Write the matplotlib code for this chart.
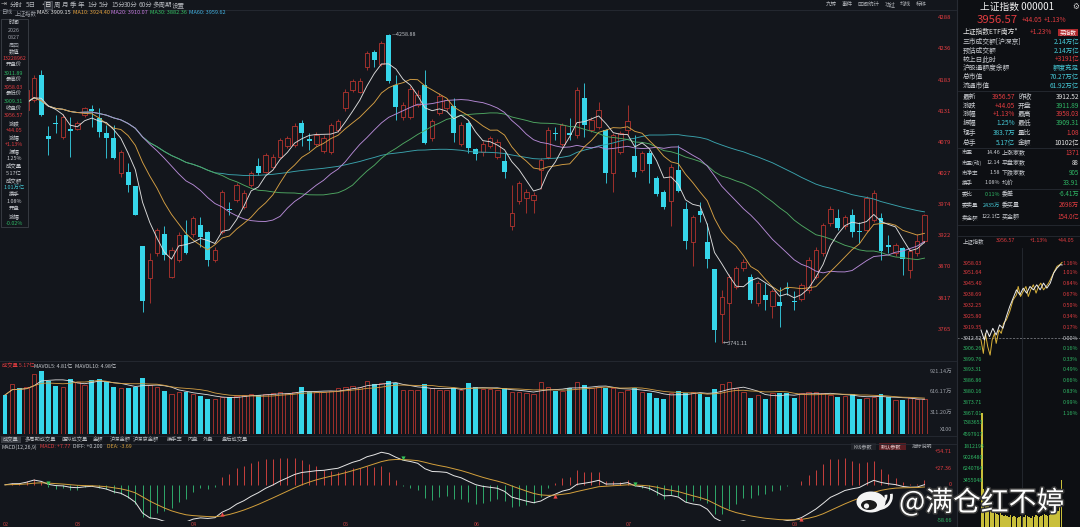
import numpy as np
import pandas as pd
import matplotlib
matplotlib.use("Agg")
import matplotlib.pyplot as plt
from matplotlib.patches import Rectangle, Ellipse, Arc, Circle
import matplotlib.patheffects as pe

plt.rcParams['font.family'] = ['Noto Sans CJK SC', 'DejaVu Sans']

W, H = 1080, 527
BG = '#13161c'
PANEL_BG = '#0d0f13'
RED = '#e23c40'
UP_EDGE = '#b5342f'
CYAN = '#36d6ea'
CYANT = '#45c9d6'
GREEN = '#2fb865'
GRID = '#272b33'
LABEL = '#c9ccd1'
GRAY = '#9a9ea6'

# daily candles of 上证指数, Feb .. 2026-08-27
opens = [4150, 4126, 4148, 4132, 4149, 4191, 4089, 4110, 4087, 4100,
         4101, 4124, 4134, 4118, 4093, 4086, 4027, 4029, 4004, 3904,
         3850, 3892, 3924, 3853, 3881, 3923, 3925, 3939, 3927, 3881,
         3928, 3967, 3981, 3970, 4006, 4039, 4029, 4037, 4054, 4071,
         4073, 4111, 4083, 4075, 4063, 4062, 4099, 4135, 4166, 4163,
         4205, 4230, 4210, 4258, 4174, 4121, 4121, 4141, 4174, 4085,
         4127, 4135, 4139, 4076, 4111, 4066, 4062, 4071, 4054, 4046,
         3937, 3979, 3984, 3981, 4032, 4054, 4094, 4076, 4094, 4090,
         4153, 4099, 4104, 4099, 4026, 4062, 4099, 4055, 4032, 4060,
         4019, 3995, 3979, 4032, 3966, 3911, 3963, 3911, 3865, 3791,
         3808, 3836, 3867, 3853, 3808, 3822, 3803, 3811, 3834, 3812,
         3816, 3830, 3853, 3892, 3942, 3951, 3937, 3956, 3930, 3931,
         3948, 3951, 3906, 3892, 3901, 3864, 3892, 3911.89]
highs = [4155, 4152, 4151, 4172, 4190, 4199, 4105, 4124, 4125, 4121,
         4113, 4138, 4141, 4135, 4107, 4107, 4065, 4043, 4005, 3905,
         3892, 3935, 3937, 3902, 3928, 3948, 3955, 3953, 3929, 3902,
         3998, 3978, 4010, 3998, 4030, 4051, 4060, 4058, 4086, 4088,
         4110, 4116, 4093, 4095, 4090, 4110, 4117, 4168, 4184, 4185,
         4231, 4232, 4248, 4258.88, 4191, 4145, 4172, 4165, 4200, 4117,
         4160, 4153, 4152, 4112, 4113, 4068, 4080, 4088, 4083, 4062,
         4006, 4013, 3999, 3994, 4052, 4103, 4104, 4110, 4118, 4170,
         4177, 4120, 4146, 4100, 4094, 4097, 4141, 4090, 4064, 4065,
         4022, 3998, 4041, 4073, 3978, 3957, 3978, 3942, 3866, 3830,
         3858, 3871, 3882, 3858, 3846, 3842, 3832, 3836, 3844, 3828,
         3843, 3885, 3902, 3943, 3971, 3967, 3957, 3967, 3945, 3988,
         3998, 3959, 3923, 3910, 3903, 3899, 3924, 3958.03]
lows = [4122, 4120, 4130, 4128, 4145, 4122, 4057, 4093, 4083, 4054,
        4098, 4120, 4104, 4087, 4051, 4050, 4020, 3995, 3956, 3794,
        3808, 3888, 3881, 3850, 3878, 3890, 3920, 3903, 3870, 3878,
        3925, 3956, 3978, 3967, 4003, 4023, 4026, 4035, 4051, 4068,
        4070, 4071, 4065, 4072, 4060, 4058, 4096, 4130, 4162, 4160,
        4200, 4205, 4206, 4177, 4115, 4115, 4117, 4138, 4076, 4080,
        4123, 4131, 4079, 4072, 4060, 4048, 4055, 4068, 4050, 4018,
        3931, 3975, 3959, 3960, 4000, 4050, 4082, 4072, 4082, 4086,
        4087, 4095, 4100, 4009, 3995, 4058, 4090, 4020, 4028, 4009,
        3988, 3967, 3937, 3995, 3900, 3870, 3945, 3867, 3744, 3741.11,
        3747, 3832, 3863, 3808, 3804, 3797, 3783, 3769, 3822, 3797,
        3812, 3826, 3849, 3888, 3938, 3931, 3933, 3920, 3909, 3927,
        3944, 3881, 3892, 3888, 3856, 3850, 3888, 3909.31]
closes = [4128, 4150, 4135, 4165, 4185, 4124, 4084, 4108, 4121, 4097,
          4110, 4135, 4130, 4096, 4085, 4051, 4062, 4006, 3957, 3812,
          3881, 3931, 3889, 3898, 3923, 3892, 3951, 3920, 3881, 3898,
          3994, 3964, 4006, 3993, 4026, 4027, 4057, 4054, 4082, 4085,
          4105, 4094, 4081, 4091, 4086, 4107, 4113, 4163, 4180, 4180,
          4227, 4216, 4244, 4180, 4137, 4140, 4168, 4157, 4077, 4113,
          4155, 4149, 4094, 4107, 4069, 4058, 4076, 4085, 4079, 4029,
          3959, 4009, 3995, 3990, 4048, 4099, 4092, 4107, 4091, 4166,
          4107, 4115, 4132, 4027, 4090, 4093, 4113, 4029, 4060, 4042,
          3991, 3970, 4037, 3997, 3913, 3953, 3956, 3882, 3763, 3819,
          3853, 3867, 3878, 3814, 3842, 3813, 3828, 3804, 3832, 3810,
          3839, 3881, 3898, 3939, 3967, 3934, 3953, 3928, 3927, 3984,
          3993, 3895, 3903, 3906, 3882, 3895, 3912.52, 3956.57]
# volume in 万手 (x100)
volumes = [570, 726, 667, 690, 872, 920, 774, 701, 690, 803,
           765, 716, 789, 799, 755, 692, 667, 677, 682, 813,
           716, 690, 628, 580, 609, 618, 580, 560, 506, 511,
           545, 545, 560, 570, 580, 570, 580, 594, 609, 594,
           618, 682, 609, 609, 618, 628, 667, 690, 706, 690,
           779, 726, 740, 774, 740, 643, 643, 643, 730, 667,
           643, 643, 667, 643, 740, 682, 652, 652, 650, 667,
           618, 609, 594, 580, 755, 690, 628, 628, 667, 755,
           716, 667, 690, 677, 667, 618, 643, 667, 618, 604,
           531, 511, 594, 633, 604, 609, 584, 545, 657, 726,
           755, 667, 618, 521, 570, 511, 594, 594, 604, 531,
           594, 609, 609, 594, 570, 545, 560, 580, 511, 531,
           545, 580, 536, 497, 497, 521, 511, 517]

price_ticks = [4288, 4236, 4183, 4131, 4079, 4027, 3974, 3922, 3870, 3817, 3765]
vol_ticks = [921.14, 616.17, 311.20]
macd_ticks = [54.71, 27.36, 0, -58.66]
month_labels = ['02', '03', '04', '05', '06', '07', '08']
month_pos = [0, 10, 26, 47, 65, 86, 109]

# intraday (minute, % change) of the day
px_min = [0, 10, 17, 25, 35, 45, 55, 65, 75, 85, 95, 105, 115, 125, 135, 145,
          155, 165, 175, 185, 195, 205, 215, 225, 235, 240]
px_pct = [0.124, -0.031, 0.124, 0.021, 0.150, 0.047, 0.202, 0.150, 0.331, 0.487,
          0.616, 0.745, 0.668, 0.771, 0.694, 0.797, 0.745, 0.823, 0.745, 0.849,
          0.771, 0.849, 1.004, 1.082, 1.134, 1.130]
nw_min = [0, 7, 13, 20, 27, 33, 40, 45, 53, 60, 67, 75, 85, 95, 105, 110, 117,
          125, 133, 140, 147, 155, 163, 170, 177, 185, 193, 200, 210, 217, 225, 233, 240]
nw_pct = [-0.031, -0.238, 0.072, -0.135, -0.264, -0.031, 0.072, -0.083, 0.124, 0.072,
          0.228, 0.280, 0.409, 0.590, 0.668, 0.797, 0.642, 0.719, 0.797, 0.642,
          0.745, 0.823, 0.694, 0.797, 0.849, 0.745, 0.797, 0.849, 0.952, 1.030,
          1.108, 1.134, 1.170]
mini_vol = [3020, 1010, 900, 800, 580, 480, 420, 370, 400, 340, 320, 370, 320, 290,
            320, 290, 260, 320, 260, 290, 260, 240, 260, 290, 240, 260, 320, 290,
            260, 240, 290, 260, 320, 290, 260, 290, 320, 340, 320, 290, 320, 340,
            370, 400, 370, 420, 530, 1250]
mini_pct_ticks = [1.16, 1.01, 0.84, 0.67, 0.50, 0.34, 0.17, 0.00, -0.16, -0.33,
                  -0.49, -0.66, -0.83, -0.99, -1.16]
mini_price_labels = ['3958.03', '3951.64', '3945.40', '3938.69', '3932.25', '3925.80',
                     '3919.35', '3912.52', '3906.26', '3899.76', '3893.31', '3886.86',
                     '3880.16', '3873.71', '3867.01']


def rect(x0, y0, x1, y1):
    return [x0 / W, 1 - y1 / H, (x1 - x0) / W, (y1 - y0) / H]


def clean(a):
    a.set_facecolor('none')
    for sp in a.spines.values():
        sp.set_visible(False)
    a.set_xticks([])
    a.set_yticks([])


fig = plt.figure(figsize=(W / 100, H / 100), dpi=100, facecolor=BG)

bg = fig.add_axes([0, 0, 1, 1])
bg.set_xlim(0, W)
bg.set_ylim(H, 0)
bg.axis('off')
bg.add_patch(Rectangle((957, 0), 123, H, facecolor=PANEL_BG, edgecolor='none'))

o = np.array(opens, float)
h = np.array(highs, float)
l = np.array(lows, float)
c = np.array(closes, float)
v = np.array(volumes, float)
idx = np.arange(len(c))
up = c >= o
XL = (-0.69, 128.04)

# ---- main K-line
ax = fig.add_axes(rect(0, 16, 932, 358))
clean(ax)
ax.set_xlim(*XL)
ax.set_ylim(3716.5, 4289.7)
body_lo = np.minimum(o, c)
body_h = np.maximum(np.abs(c - o), 0.9)
ax.vlines(idx[up], l[up], h[up], color=UP_EDGE, lw=0.6, zorder=2)
ax.vlines(idx[~up], l[~up], h[~up], color=CYAN, lw=0.6, zorder=2)
ax.bar(idx[up], body_h[up], bottom=body_lo[up], width=0.62, facecolor=BG,
       edgecolor=UP_EDGE, lw=0.6, zorder=3)
ax.bar(idx[~up], body_h[~up], bottom=body_lo[~up], width=0.68, color=CYAN, lw=0, zorder=3)
s = pd.Series(c)
for n, col in [(60, '#3aa3ad'), (30, '#4fa862'), (20, '#b68ad6'), (10, '#d6a044'), (5, '#dcdcdc')]:
    ax.plot(idx, s.rolling(n, min_periods=1).mean(), color=col, lw=0.65, zorder=4)
ax.yaxis.tick_right()
ax.set_yticks(price_ticks)
ax.set_yticklabels([str(t) for t in price_ticks])
ax.tick_params(axis='y', length=0, pad=4, labelsize=4.3, labelcolor=RED)
ih = int(np.argmax(h))
il = int(np.argmin(l))
ax.text(ih + 0.4, h[ih], '—%.2f' % h[ih], fontsize=3.9, color='#c0c3c8', va='center', zorder=5)
ax.text(il + 0.2, l[il], '←%.2f' % l[il], fontsize=3.9, color='#c0c3c8', va='center', zorder=5)

# ---- volume
av = fig.add_axes(rect(0, 370, 932, 434))
clean(av)
av.set_xlim(*XL)
av.set_ylim(0, 935.8)
av.bar(idx[up], v[up], width=0.62, facecolor=BG, edgecolor=UP_EDGE, lw=0.6)
av.bar(idx[~up], v[~up], width=0.68, color=CYAN, lw=0)
vs = pd.Series(v)
av.plot(idx, vs.rolling(5, min_periods=1).mean(), color='#dedede', lw=0.6)
av.plot(idx, vs.rolling(10, min_periods=1).mean(), color='#d6a044', lw=0.6)
for t in vol_ticks:
    av.text(952 / 932, t, '%.2f万' % t, transform=av.get_yaxis_transform(), ha='right',
            va='center', fontsize=4, color=GRAY)
av.text(952 / 932, 60, 'X100', transform=av.get_yaxis_transform(), ha='right',
        va='center', fontsize=4, color=GRAY)

# ---- MACD
am = fig.add_axes(rect(0, 448, 932, 521))
clean(am)
am.set_xlim(*XL)
am.set_ylim(-60.3, 61.3)
ema12 = s.ewm(span=12, adjust=False).mean()
ema26 = s.ewm(span=26, adjust=False).mean()
diff = ema12 - ema26
dea = diff.ewm(span=9, adjust=False).mean()
hist = 2 * (diff - dea)
am.vlines(idx, 0, hist, colors=np.where(hist >= 0, '#c8403c', '#2ea86a'), lw=0.7)
am.plot(idx, diff, color='#e6e6e6', lw=0.7)
am.plot(idx, dea, color='#d3a03c', lw=0.7)
dd = (diff - dea).values
for i in range(1, len(dd)):
    if dd[i - 1] < 0 <= dd[i]:
        am.plot(i, diff[i] - 3, marker='^', ms=3, color='#f04848', mec='none')
    elif dd[i - 1] > 0 >= dd[i]:
        am.plot(i, diff[i] + 3, marker='v', ms=3, color='#35c35a', mec='none')
for t in macd_ticks:
    lab = '0' if t == 0 else ('%+.2f' % t)
    am.text(952 / 932, t, lab, transform=am.get_yaxis_transform(), ha='right', va='center',
            fontsize=4, color=RED if t >= 0 else GREEN)
for lab, p in zip(month_labels, month_pos):
    am.text(p - 0.3, -0.01, lab, transform=am.get_xaxis_transform(), ha='left', va='top',
            fontsize=4, color='#c04040')

# ---- intraday mini chart
ip = fig.add_axes(rect(957, 248, 1080, 420))
clean(ip)
ip.set_xlim(-71, 293)
ip.set_ylim(-1.268, 1.392)
ip.axhline(0, color='#8a8d93', lw=0.5, ls=(0, (3, 2)))
ip.axvline(120, color=GRID, lw=0.6)
ip.plot(nw_min, nw_pct, color='#d9b23a', lw=0.7)
ip.plot(px_min, px_pct, color='#ececec', lw=0.7)
for t, lab in zip(mini_pct_ticks, mini_price_labels):
    col = RED if t > 0 else (LABEL if t == 0 else GREEN)
    ip.text(6 / 123, t, lab, transform=ip.get_yaxis_transform(), ha='left', va='center',
            fontsize=3.9, color=col)
    ip.text(121 / 123, t, '%.2f%%' % abs(t), transform=ip.get_yaxis_transform(), ha='right',
            va='center', fontsize=3.9, color=col)

iv = fig.add_axes(rect(957, 410, 1080, 527))
clean(iv)
iv.set_xlim(-71, 293)
iv.set_ylim(0, 3100)
iv.axvline(120, color=GRID, lw=0.6)
iv.bar(np.arange(len(mini_vol)) * 5 + 2.5, mini_vol, width=4.2, color='#c9bf3a', lw=0)

# ---- overlay text
ov = fig.add_axes([0, 0, 1, 1])
ov.set_xlim(0, W)
ov.set_ylim(H, 0)
ov.axis('off')
ov.set_facecolor('none')


def t(x, y, s, col=LABEL, fs=4.3, ha='left', **kw):
    ov.text(x, y, s, color=col, fontsize=fs, ha=ha, va='center', **kw)


for y in (9.5, 361, 435.5, 443.5):
    ov.plot([0, 956], [y, y], color=GRID, lw=0.6)
ov.plot([956.5, 956.5], [0, H], color=GRID, lw=0.8)

# toolbar
t(1, 4.8, '⇥', '#b0b0b0', 5)
for x, s_ in [(10, '分时'), (26, '5日'), (39, '·'), (54, '周'), (62, '月'), (70, '季'), (78, '年'),
              (87, '1分'), (99, '5分'), (111, '15分'), (124, '30分'), (139, '60分'),
              (153, '多周期'), (172, '设置')]:
    t(x, 4.8, s_, '#b0b3b8', 4.7)
ov.add_patch(Rectangle((43.5, 0.5), 8.5, 8.5, facecolor='#2c3038', edgecolor='#6a6e76', lw=0.4))
t(44.5, 4.8, '日', '#e0e0e0', 4.7)
for x, s_ in [(826, '九转'), (842, '事件'), (858, '区间统计'), (885, '功过'), (900, '均线'), (916, '标移')]:
    t(x, 4.5, s_, '#b0b3b8', 4.0)

# MA legend line
t(1, 13, '日线', GRAY, 4.0)
t(15, 13, '上证指数', GRAY, 4.0)
t(37, 13, 'MA5: 3909.15', '#e0e0e0', 4.0)
t(73, 13, 'MA10: 3924.40', '#e3a13e', 4.0)
t(111, 13, 'MA20: 3910.07', '#c57ae0', 4.0)
t(150, 13, 'MA30: 3882.36', '#34c062', 4.0)
t(189, 13, 'MA60: 3959.62', '#42b2e2', 4.0)

# left info box
ov.add_patch(Rectangle((0.5, 19), 27, 208, facecolor=BG, edgecolor='#3c4048', lw=0.6, zorder=5))
info_rows = [('时间', LABEL), ('2026', GRAY), ('0827', GRAY), ('周四', GRAY), ('数值', LABEL),
             ('13228962', RED), ('开盘价', LABEL), ('3911.89', GREEN), ('最高价', LABEL),
             ('3958.03', RED), ('最低价', LABEL), ('3909.31', GREEN), ('收盘价', LABEL),
             ('3956.57', RED), ('涨跌', LABEL), ('+44.05', RED), ('涨幅', LABEL),
             ('+1.13%', RED), ('振幅', LABEL), ('1.25%', LABEL), ('成交量', LABEL),
             ('5.17亿', LABEL), ('成交额', LABEL), ('1.01万亿', CYANT), ('换手', LABEL),
             ('1.08%', LABEL), ('开盘', LABEL), ('涨幅', LABEL), ('-0.02%', GREEN)]
for k, (s_, col) in enumerate(info_rows):
    t(14, 23 + 7.15 * k, s_, col, 3.9, ha='center', zorder=6)

# volume header & tabs
t(2, 366, '成交量 5.17亿', RED, 3.8)
t(34, 366, 'MAVOL5: 4.81亿', LABEL, 3.8)
t(75, 366, 'MAVOL10: 4.98亿', LABEL, 3.8)
ov.add_patch(Rectangle((1, 436), 20, 7, facecolor='#3a3d44', edgecolor='none'))
for x, s_ in [(3, '成交量'), (25, '多周期成交量'), (62, '虚拟成交量'), (93, '金额'), (110, '沪深金额'),
              (133, '沪深京金额'), (167, '换手率'), (188, '内盘'), (203, '外盘'), (222, '盘后成交量')]:
    t(x, 439.5, s_, '#b8bbc0', 3.8)
ov.add_patch(Rectangle((851, 443), 25, 7, facecolor='#1f2228', edgecolor='none'))
ov.add_patch(Rectangle((879, 443), 27, 7, facecolor='#5a1d22', edgecolor='none'))
t(853, 446.5, 'K线参数', '#a8abb0', 3.7)
t(881, 446.5, '默认参数', '#e0c8c8', 3.7)
t(912, 446.5, '指标说明', '#a8abb0', 3.7)

# MACD header
t(2, 447, 'MACD(12,26,9)', LABEL, 3.8)
t(40, 447, 'MACD: +7.77', RED, 3.8)
t(73, 447, 'DIFF: +0.200', LABEL, 3.8)
t(107, 447, 'DEA: -3.69', '#d9a23e', 3.8)

# right panel
t(1017, 7, '上证指数 000001', '#f0f0f0', 7.0, ha='center')
t(1076, 7, '⚙', '#d0d0d0', 5.5, ha='center')
t(977, 20, '3956.57', RED, 8.2)
t(1022, 20.5, '+44.05', RED, 4.8)
t(1044, 20.5, '+1.13%', RED, 4.8)
t(963, 32, '上证指数ETF南方*', '#e6e6e6', 4.9)
t(1052, 32, '+1.23%', RED, 4.7, ha='right')
ov.add_patch(Rectangle((1058, 28.5), 20, 7.5, facecolor='#b02a2e', edgecolor='none'))
t(1068, 32.3, '买指数', '#ffffff', 4.1, ha='center')
for y, lab, val, col in [(42, '三市成交额[沪深京]', '2.14万亿', CYANT),
                         (50.5, '预估成交额', '2.14万亿', CYANT),
                         (59, '较上日此时', '+3191亿', RED),
                         (68, '沪股通额度余额', '额度充足', CYANT),
                         (77, '总市值', '70.27万亿', CYANT),
                         (86, '流通市值', '61.92万亿', CYANT)]:
    t(963, y, lab, LABEL, 4.9)
    t(1079, y, val, col, 4.7, ha='right')
for y, a, av_, ac, b, bv, bc in [
        (97, '最新', '3956.57', RED, '昨收', '3912.52', '#e6e6e6'),
        (105.5, '涨跌', '+44.05', RED, '开盘', '3911.89', GREEN),
        (114, '涨幅', '+1.13%', RED, '最高', '3958.03', RED),
        (123, '振幅', '1.25%', CYANT, '最低', '3909.31', GREEN),
        (133, '现手', '383.7万', CYANT, '量比', '1.08', RED),
        (143, '总手', '5.17亿', CYANT, '金额', '10102亿', '#e6e6e6')]:
    t(963, y, a, LABEL, 4.9)
    t(1015, y, av_, ac, 4.7, ha='right')
    t(1018, y, b, LABEL, 4.9)
    t(1079, y, bv, bc, 4.7, ha='right')
for y, a, av_, ac, b, bv, bc in [
        (153, '市盈', '14.46', LABEL, '上涨家数', '1371', RED),
        (163, '市盈(动)', '12.14', LABEL, '平盘家数', '88', '#e6e6e6'),
        (173, '市净率', '1.58', LABEL, '下跌家数', '905', GREEN),
        (183, '换手', '1.08%', LABEL, '均价', '33.91', GREEN),
        (194, '委比', '0.11%', GREEN, '委差', '-6.41万', GREEN),
        (205, '委卖量', '2435万', CYANT, '委买量', '2698万', RED),
        (217, '卖金额', '122.1亿', LABEL, '买金额', '154.0亿', RED)]:
    t(962, y, a, LABEL, 4.0)
    t(1000, y, av_, ac, 3.9, ha='right')
    t(1002, y, b, LABEL, 4.3)
    t(1079, y, bv, bc, 4.5, ha='right')
for y in (91, 148, 188.5, 225, 236):
    ov.plot([958, 1080], [y, y], color=GRID, lw=0.6)
t(963, 241, '上证指数', LABEL, 3.9)
t(996, 241, '3956.57', RED, 3.9)
t(1030, 241, '+1.13%', RED, 3.9)
t(1058, 241, '+44.05', RED, 3.9)
for k, s_ in enumerate(['7383653', '4597917', '1812193', '9026480', '6240764', '3455048']):
    t(963, 423 + 11.5 * k, s_, GREEN, 3.8)

# watermark
ov.add_patch(Ellipse((871, 502), 29, 21, facecolor='#f4f4f4', edgecolor='none', zorder=7))
ov.add_patch(Ellipse((869, 505), 16, 10, facecolor='#1a1a1a', edgecolor='none', zorder=8))
ov.add_patch(Circle((866.5, 506), 2.6, facecolor='#f4f4f4', edgecolor='none', zorder=9))
ov.add_patch(Arc((879, 496), 14, 14, theta1=-10, theta2=100, color='#f4f4f4', lw=2.0, zorder=7))
ov.add_patch(Arc((879, 496), 25, 25, theta1=-10, theta2=100, color='#f4f4f4', lw=2.0, zorder=7))
ov.text(899, 503, '@满仓红不婷', color='#ffffff', fontsize=20, ha='left', va='center', zorder=10,
        path_effects=[pe.withStroke(linewidth=2.2, foreground='#3a3a3a')])

fig.savefig('out.png', dpi=100, facecolor=BG)
